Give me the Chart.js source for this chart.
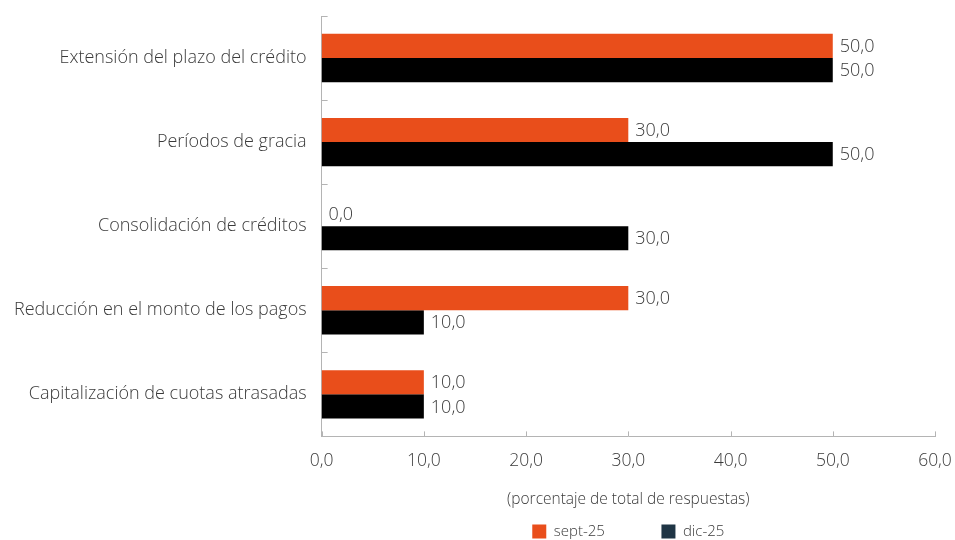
<!DOCTYPE html>
<html>
<head>
<meta charset="utf-8">
<script src="https://cdn.jsdelivr.net/npm/chart.js@4.4.1/dist/chart.umd.min.js"></script>
<style>
  body { margin: 0; background: #fff; }
  #wrap { width: 955px; height: 540px; }
</style>
</head>
<body>
<div id="wrap"><canvas id="myChart"></canvas></div>
<script>
var categories = [
    'Extensión del plazo del crédito',
    'Períodos de gracia',
    'Consolidación de créditos',
    'Reducción en el monto de los pagos',
    'Capitalización de cuotas atrasadas'
];
var septValues = [50, 30, 0, 30, 10];
var dicValues = [50, 50, 30, 10, 10];
var seriesNames = ['sept-25', 'dic-25'];
var axisTitle = '(porcentaje de total de respuestas)';

var textColor = '#3a3a3a';
var axisColor = '#b4b4b4';

function fmt(v) {
    return Number(v).toFixed(1).replace('.', ',');
}

// value labels at the end of each bar + tick marks drawn inside the axes
var barLabels = {
    id: 'barLabels',
    afterDatasetsDraw: function(chart) {
        var c = chart.ctx;
        c.save();
        c.font = '300 18px "Open Sans"';
        c.fillStyle = textColor;
        c.textBaseline = 'middle';
        c.textAlign = 'left';
        chart.data.datasets.forEach(function(ds, i) {
            chart.getDatasetMeta(i).data.forEach(function(bar, j) {
                c.fillText(fmt(ds.data[j]), bar.x + 7, bar.y + 1);
            });
        });
        c.restore();
    },
    afterDraw: function(chart) {
        var c = chart.ctx, a = chart.chartArea;
        var xs = chart.scales.x;
        c.save();
        c.strokeStyle = axisColor;
        c.lineWidth = 1;
        c.beginPath();
        xs.ticks.forEach(function(t) {
            var px = Math.round(xs.getPixelForValue(t.value)) + 0.5;
            c.moveTo(px, a.bottom - 5);
            c.lineTo(px, a.bottom);
        });
        var n = categories.length;
        for (var i = 0; i <= n; i++) {
            var py = Math.round(a.top + i * (a.bottom - a.top) / n) + 0.5;
            c.moveTo(a.left, py);
            c.lineTo(a.left + 6, py);
        }
        c.stroke();
        c.restore();
    }
};

var ctx = document.getElementById('myChart').getContext('2d');
var myChart = new Chart(ctx, {
    type: 'bar',
    data: {
        labels: categories,
        datasets: [{
            label: seriesNames[0],
            data: septValues,
            backgroundColor: '#E94E1B',
            borderWidth: 0
        }, {
            label: seriesNames[1],
            data: dicValues,
            backgroundColor: '#000000',
            borderWidth: 0
        }]
    },
    options: {
        indexAxis: 'y',
        responsive: true,
        maintainAspectRatio: false,
        animation: false,
        categoryPercentage: 0.575,
        barPercentage: 1.0,
        layout: { padding: { top: 16, right: 20, left: 14, bottom: -9 } },
        scales: {
            x: {
                min: 0,
                max: 60,
                ticks: {
                    stepSize: 10,
                    color: textColor,
                    font: { family: 'Open Sans', size: 17.5, weight: 300 },
                    padding: 0,
                    callback: function(v) { return fmt(v); }
                },
                // invisible tick length used as the gap between axis and labels
                grid: { display: false, drawTicks: true, tickLength: 14 },
                border: { color: axisColor, width: 1 },
                title: {
                    display: true,
                    text: axisTitle,
                    color: textColor,
                    font: { family: 'Open Sans', size: 15.5, weight: 300 },
                    padding: { top: 19, bottom: 13 }
                }
            },
            y: {
                ticks: {
                    color: textColor,
                    font: { family: 'Open Sans', size: 18, weight: 300 },
                    padding: 0
                },
                grid: { display: false, drawTicks: true, tickLength: 15 },
                border: { color: axisColor, width: 1 }
            }
        },
        plugins: {
            legend: {
                position: 'bottom',
                fullSize: false,
                labels: {
                    color: textColor,
                    font: { family: 'Open Sans', size: 15, weight: 300 },
                    boxWidth: 14,
                    boxHeight: 14,
                    padding: 2,
                    generateLabels: function(chart) {
                        var cols = ['#E94E1B', '#1F3545'];
                        var pad = '\u00a0\u00a0\u00a0\u00a0\u00a0\u00a0\u00a0\u00a0\u00a0\u00a0\u00a0\u00a0\u00a0\u00a0';
                        return seriesNames.map(function(name, i) {
                            return {
                                text: i === 0 ? name + pad : name,
                                fillStyle: cols[i],
                                strokeStyle: cols[i],
                                lineWidth: 0,
                                fontColor: textColor,
                                datasetIndex: i
                            };
                        });
                    }
                }
            },
            tooltip: { enabled: false }
        }
    },
    plugins: [barLabels]
});
</script>
</body>
</html>
